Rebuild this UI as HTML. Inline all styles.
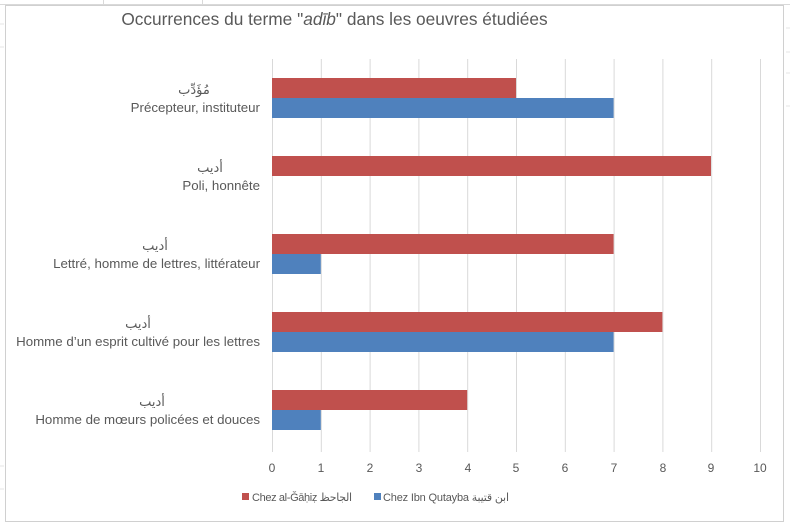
<!DOCTYPE html>
<html><head><meta charset="utf-8"><style>
body{margin:0;background:#fff;width:790px;height:524px;overflow:hidden;font-family:"Liberation Sans","DejaVu Sans",sans-serif}
</style></head><body>
<svg width="790" height="524" xmlns="http://www.w3.org/2000/svg" font-family="Liberation Sans, DejaVu Sans, sans-serif">
<rect width="790" height="524" fill="#fff"/>
<g stroke="#d9d9d9" stroke-width="1">
<line x1="0" y1="4.5" x2="790" y2="4.5"/>
<line x1="103.5" y1="0" x2="103.5" y2="5"/><line x1="202.5" y1="0" x2="202.5" y2="5"/>
</g>
<rect x="5.5" y="5.5" width="778" height="516" fill="#fff" stroke="#d0d0d0"/>
<g stroke="#e4e4e4" stroke-width="1">
<line x1="786" y1="28" x2="790" y2="28"/><line x1="786" y1="52" x2="790" y2="52"/><line x1="786" y1="73" x2="790" y2="73"/><line x1="786" y1="106" x2="790" y2="106"/>
<line x1="0" y1="24" x2="4" y2="24"/><line x1="0" y1="47" x2="4" y2="47"/><line x1="0" y1="466" x2="4" y2="466"/><line x1="0" y1="489" x2="4" y2="489"/>
</g>
<text x="334.5" y="25" font-size="17.3" fill="#595959" text-anchor="middle">Occurrences du terme "<tspan font-style="italic">adīb</tspan>" dans les oeuvres étudiées</text>
<g stroke="#d9d9d9" stroke-width="1">
<line x1="272.5" y1="59" x2="272.5" y2="452"/><line x1="321.3" y1="59" x2="321.3" y2="452"/><line x1="370.1" y1="59" x2="370.1" y2="452"/><line x1="418.9" y1="59" x2="418.9" y2="452"/><line x1="467.7" y1="59" x2="467.7" y2="452"/><line x1="516.5" y1="59" x2="516.5" y2="452"/><line x1="565.3" y1="59" x2="565.3" y2="452"/><line x1="614.1" y1="59" x2="614.1" y2="452"/><line x1="662.9" y1="59" x2="662.9" y2="452"/><line x1="711.7" y1="59" x2="711.7" y2="452"/><line x1="760.5" y1="59" x2="760.5" y2="452"/>
</g>
<g fill="#C0504D">
<rect x="272" y="78" width="244" height="20"/>
<rect x="272" y="156" width="439" height="20"/>
<rect x="272" y="234" width="341.6" height="20"/>
<rect x="272" y="312" width="390.4" height="20"/>
<rect x="272" y="390" width="195.2" height="20"/>
</g>
<g fill="#4F81BD">
<rect x="272" y="98" width="341.6" height="20"/>
<rect x="272" y="254" width="48.8" height="20"/>
<rect x="272" y="332" width="341.6" height="20"/>
<rect x="272" y="410" width="48.8" height="20"/>
</g>
<g font-size="13.3" fill="#595959" text-anchor="end">
<text x="260" y="112">Précepteur, instituteur</text>
<text x="260" y="190">Poli, honnête</text>
<text x="260" y="268">Lettré, homme de lettres, littérateur</text>
<text x="260" y="346">Homme d’un esprit cultivé pour les lettres</text>
<text x="260" y="424">Homme de mœurs policées et douces</text>
</g>
<g font-size="13" fill="#595959" text-anchor="middle">
<text x="194" y="94">مُؤَدِّب</text>
<text x="210" y="172">أديب</text>
<text x="155" y="250">أديب</text>
<text x="138" y="328">أديب</text>
<text x="152" y="406">أديب</text>
</g>
<g font-size="12" fill="#595959" text-anchor="middle">
<text x="272" y="472">0</text><text x="321" y="472">1</text><text x="370" y="472">2</text><text x="419" y="472">3</text><text x="468" y="472">4</text><text x="516" y="472">5</text><text x="565" y="472">6</text><text x="614" y="472">7</text><text x="663" y="472">8</text><text x="711" y="472">9</text><text x="760" y="472">10</text>
</g>
<rect x="242" y="493" width="7" height="7" fill="#C0504D"/>
<text x="252" y="501" font-size="11" fill="#595959" textLength="100">Chez al-Ǧāḥiẓ الجاحظ</text>
<rect x="374" y="493" width="7" height="7" fill="#4F81BD"/>
<text x="383" y="501" font-size="11" fill="#595959" textLength="126">Chez Ibn Qutayba ابن قتيبة</text>
</svg>
</body></html>
